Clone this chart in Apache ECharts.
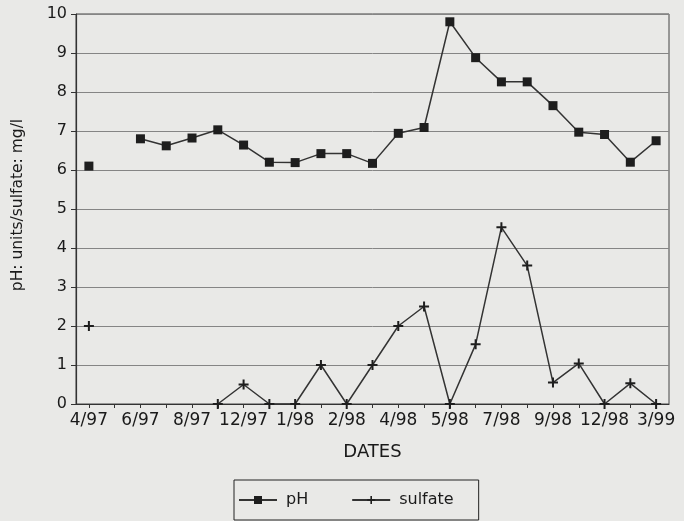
<!DOCTYPE html>
<html>
<head>
<meta charset="utf-8">
<script src="https://cdn.jsdelivr.net/npm/echarts@6/dist/echarts.min.js"></script>
<style>
  html, body { margin: 0; padding: 0; background: #e9e9e7; }
  #chart { width: 684px; height: 521px; }
</style>
</head>
<body>
<div id="chart"></div>
<script>
// Sampling dates: only every other date carries a tick label
const dates = ['4/97', '', '6/97', '', '8/97', '', '12/97', '', '1/98', '', '2/98', '',
               '4/98', '', '5/98', '', '7/98', '', '9/98', '', '12/98', '', '3/99'];
// pH (units)
const phValues = [6.1, null, 6.8, 6.62, 6.82, 7.03, 6.64, 6.2, 6.19, 6.42, 6.42, 6.17,
                  6.94, 7.09, 9.8, 8.88, 8.26, 8.26, 7.65, 6.97, 6.91, 6.2, 6.75];
// sulfate (mg/l)
const sulfateValues = [2.0, null, null, null, null, 0, 0.5, 0, 0, 1.0, 0, 1.0,
                       2.0, 2.5, 0, 1.53, 4.53, 3.55, 0.55, 1.04, 0, 0.53, 0];
const yTicks = { min: 0, max: 10, step: 1 };

const font = '"DejaVu Sans", Verdana, sans-serif';
const ink = '#1a1a1a';
const plusPath = 'path://M4,0H6V4H10V6H6V10H4V6H0V4H4Z';

const chart = echarts.init(document.getElementById('chart'), null, { renderer: 'canvas' });
chart.setOption({
  backgroundColor: '#e9e9e7',
  animation: false,
  textStyle: { fontFamily: font, color: ink },
  grid: {
    left: 76, right: 15, top: 14, bottom: 117,
    show: true, borderColor: '#444', borderWidth: 1, backgroundColor: 'transparent'
  },
  graphic: [{
    type: 'text',
    x: 18, y: 205,
    rotation: Math.PI / 2,
    style: {
      text: 'pH: units/sulfate: mg/l',
      fontFamily: font, fontSize: 15.5, fill: ink,
      align: 'center', verticalAlign: 'middle'
    }
  }],
  legend: {
    left: 234, top: 480,
    itemWidth: 38, itemHeight: 10, itemGap: 43,
    padding: [12, 25, 12, 4],
    borderColor: '#222', borderWidth: 1,
    textStyle: { fontFamily: font, fontSize: 16, color: ink, padding: [0, 0, 0, 4] },
    data: ['pH', 'sulfate']
  },
  xAxis: {
    type: 'category',
    data: dates,
    boundaryGap: true,
    name: 'DATES',
    nameLocation: 'middle',
    nameGap: 39,
    nameTextStyle: { fontFamily: font, fontSize: 18, color: ink },
    axisLine: { lineStyle: { color: '#333', width: 1.2 } },
    axisTick: { show: true, alignWithLabel: true, interval: 0, length: 4, lineStyle: { color: '#333' } },
    axisLabel: { interval: 0, fontFamily: font, fontSize: 17, color: ink, margin: 8 },
    splitLine: { show: false }
  },
  yAxis: {
    type: 'value',
    min: yTicks.min, max: yTicks.max, interval: yTicks.step,
    axisLine: { show: true, lineStyle: { color: '#333', width: 1.2 } },
    axisTick: { show: true, length: 5, lineStyle: { color: '#333' } },
    axisLabel: { fontFamily: font, fontSize: 16, color: ink, margin: 9 },
    splitLine: { show: true, lineStyle: { color: '#858585', width: 1 } }
  },
  series: [
    {
      name: 'pH',
      type: 'line',
      data: phValues,
      connectNulls: false,
      symbol: 'rect',
      symbolSize: 9,
      itemStyle: { color: '#1e1e1e' },
      lineStyle: { color: '#333', width: 1.5 }
    },
    {
      name: 'sulfate',
      type: 'line',
      data: sulfateValues,
      connectNulls: false,
      symbol: plusPath,
      symbolSize: 10,
      itemStyle: { color: '#1e1e1e' },
      lineStyle: { color: '#333', width: 1.5 }
    }
  ]
});
</script>
</body>
</html>
